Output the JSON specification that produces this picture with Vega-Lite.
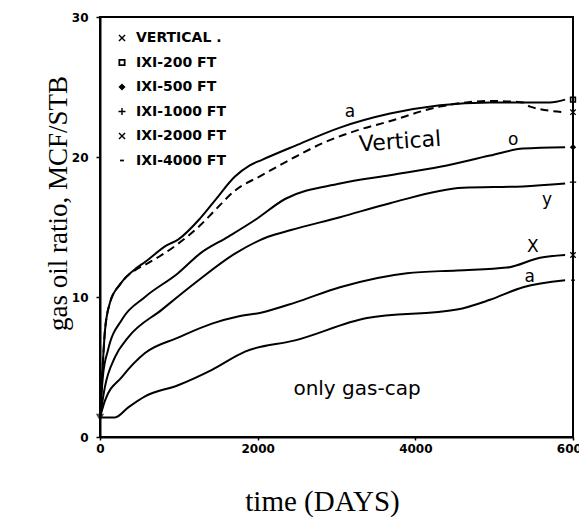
{
  "$schema": "https://vega.github.io/schema/vega-lite/v6.json",
  "autosize": "none",
  "width": 473,
  "height": 420,
  "padding": {"left": 100, "top": 17, "right": 6, "bottom": 88},
  "background": "white",
  "config": {
    "view": {"stroke": "black", "strokeWidth": 2},
    "axis": {
      "domainColor": "black",
      "domainWidth": 2,
      "grid": false,
      "tickColor": "black",
      "tickWidth": 1.5,
      "labelColor": "black",
      "labelFont": "DejaVu Sans",
      "labelFontWeight": "bold",
      "labelFontSize": 12,
      "titleColor": "black",
      "titleFont": "Liberation Serif",
      "titleFontWeight": "normal"
    },
    "text": {"font": "DejaVu Sans", "color": "black"}
  },
  "datasets": {
    "curves": [
      {"well": "VERTICAL .", "t": 0, "gor": 1.4},
      {"well": "VERTICAL .", "t": 25, "gor": 4.1},
      {"well": "VERTICAL .", "t": 63, "gor": 7.6},
      {"well": "VERTICAL .", "t": 127, "gor": 9.6},
      {"well": "VERTICAL .", "t": 254, "gor": 10.9},
      {"well": "VERTICAL .", "t": 470, "gor": 12.0},
      {"well": "VERTICAL .", "t": 571, "gor": 12.3},
      {"well": "VERTICAL .", "t": 990, "gor": 13.8},
      {"well": "VERTICAL .", "t": 1268, "gor": 15.1},
      {"well": "VERTICAL .", "t": 1459, "gor": 16.2},
      {"well": "VERTICAL .", "t": 1712, "gor": 17.6},
      {"well": "VERTICAL .", "t": 2055, "gor": 18.7},
      {"well": "VERTICAL .", "t": 2474, "gor": 20.0},
      {"well": "VERTICAL .", "t": 2829, "gor": 21.0},
      {"well": "VERTICAL .", "t": 3260, "gor": 21.9},
      {"well": "VERTICAL .", "t": 3640, "gor": 22.5},
      {"well": "VERTICAL .", "t": 4313, "gor": 23.6},
      {"well": "VERTICAL .", "t": 4947, "gor": 24.0},
      {"well": "VERTICAL .", "t": 5366, "gor": 23.9},
      {"well": "VERTICAL .", "t": 5455, "gor": 23.6},
      {"well": "VERTICAL .", "t": 5900, "gor": 23.2},

      {"well": "IXI-200 FT", "t": 0, "gor": 1.4},
      {"well": "IXI-200 FT", "t": 25, "gor": 4.1},
      {"well": "IXI-200 FT", "t": 63, "gor": 7.6},
      {"well": "IXI-200 FT", "t": 127, "gor": 9.6},
      {"well": "IXI-200 FT", "t": 254, "gor": 10.9},
      {"well": "IXI-200 FT", "t": 470, "gor": 12.1},
      {"well": "IXI-200 FT", "t": 571, "gor": 12.5},
      {"well": "IXI-200 FT", "t": 850, "gor": 13.7},
      {"well": "IXI-200 FT", "t": 990, "gor": 14.1},
      {"well": "IXI-200 FT", "t": 1268, "gor": 15.6},
      {"well": "IXI-200 FT", "t": 1459, "gor": 16.9},
      {"well": "IXI-200 FT", "t": 1712, "gor": 18.6},
      {"well": "IXI-200 FT", "t": 1900, "gor": 19.4},
      {"well": "IXI-200 FT", "t": 2055, "gor": 19.8},
      {"well": "IXI-200 FT", "t": 2474, "gor": 20.8},
      {"well": "IXI-200 FT", "t": 3044, "gor": 22.1},
      {"well": "IXI-200 FT", "t": 3679, "gor": 23.1},
      {"well": "IXI-200 FT", "t": 4313, "gor": 23.7},
      {"well": "IXI-200 FT", "t": 4947, "gor": 23.9},
      {"well": "IXI-200 FT", "t": 5366, "gor": 23.9},
      {"well": "IXI-200 FT", "t": 5708, "gor": 23.9},
      {"well": "IXI-200 FT", "t": 5900, "gor": 24.1},

      {"well": "IXI-500 FT", "t": 0, "gor": 1.4},
      {"well": "IXI-500 FT", "t": 38, "gor": 4.4},
      {"well": "IXI-500 FT", "t": 101, "gor": 6.2},
      {"well": "IXI-500 FT", "t": 279, "gor": 8.4},
      {"well": "IXI-500 FT", "t": 571, "gor": 10.0},
      {"well": "IXI-500 FT", "t": 990, "gor": 11.7},
      {"well": "IXI-500 FT", "t": 1268, "gor": 13.1},
      {"well": "IXI-500 FT", "t": 1624, "gor": 14.3},
      {"well": "IXI-500 FT", "t": 1966, "gor": 15.5},
      {"well": "IXI-500 FT", "t": 2347, "gor": 17.0},
      {"well": "IXI-500 FT", "t": 3044, "gor": 18.1},
      {"well": "IXI-500 FT", "t": 3679, "gor": 18.7},
      {"well": "IXI-500 FT", "t": 4313, "gor": 19.3},
      {"well": "IXI-500 FT", "t": 4947, "gor": 20.1},
      {"well": "IXI-500 FT", "t": 5366, "gor": 20.6},
      {"well": "IXI-500 FT", "t": 5900, "gor": 20.7},

      {"well": "IXI-1000 FT", "t": 0, "gor": 1.4},
      {"well": "IXI-1000 FT", "t": 63, "gor": 3.6},
      {"well": "IXI-1000 FT", "t": 190, "gor": 5.7},
      {"well": "IXI-1000 FT", "t": 355, "gor": 7.1},
      {"well": "IXI-1000 FT", "t": 786, "gor": 9.1},
      {"well": "IXI-1000 FT", "t": 1205, "gor": 11.0},
      {"well": "IXI-1000 FT", "t": 1712, "gor": 13.1},
      {"well": "IXI-1000 FT", "t": 2131, "gor": 14.3},
      {"well": "IXI-1000 FT", "t": 2436, "gor": 14.8},
      {"well": "IXI-1000 FT", "t": 3044, "gor": 15.7},
      {"well": "IXI-1000 FT", "t": 3679, "gor": 16.7},
      {"well": "IXI-1000 FT", "t": 4605, "gor": 17.8},
      {"well": "IXI-1000 FT", "t": 5366, "gor": 17.9},
      {"well": "IXI-1000 FT", "t": 5900, "gor": 18.1},

      {"well": "IXI-2000 FT", "t": 0, "gor": 1.4},
      {"well": "IXI-2000 FT", "t": 63, "gor": 2.6},
      {"well": "IXI-2000 FT", "t": 279, "gor": 4.3},
      {"well": "IXI-2000 FT", "t": 571, "gor": 6.0},
      {"well": "IXI-2000 FT", "t": 990, "gor": 7.1},
      {"well": "IXI-2000 FT", "t": 1420, "gor": 8.1},
      {"well": "IXI-2000 FT", "t": 1750, "gor": 8.6},
      {"well": "IXI-2000 FT", "t": 2055, "gor": 8.9},
      {"well": "IXI-2000 FT", "t": 2474, "gor": 9.6},
      {"well": "IXI-2000 FT", "t": 3044, "gor": 10.7},
      {"well": "IXI-2000 FT", "t": 3894, "gor": 11.7},
      {"well": "IXI-2000 FT", "t": 4528, "gor": 11.9},
      {"well": "IXI-2000 FT", "t": 5163, "gor": 12.1},
      {"well": "IXI-2000 FT", "t": 5581, "gor": 12.8},
      {"well": "IXI-2000 FT", "t": 5900, "gor": 13.0},

      {"well": "IXI-4000 FT", "t": 0, "gor": 1.4},
      {"well": "IXI-4000 FT", "t": 190, "gor": 1.4},
      {"well": "IXI-4000 FT", "t": 355, "gor": 2.1},
      {"well": "IXI-4000 FT", "t": 571, "gor": 2.9},
      {"well": "IXI-4000 FT", "t": 990, "gor": 3.7},
      {"well": "IXI-4000 FT", "t": 1420, "gor": 4.8},
      {"well": "IXI-4000 FT", "t": 1840, "gor": 6.1},
      {"well": "IXI-4000 FT", "t": 2474, "gor": 6.9},
      {"well": "IXI-4000 FT", "t": 3387, "gor": 8.5},
      {"well": "IXI-4000 FT", "t": 4528, "gor": 9.1},
      {"well": "IXI-4000 FT", "t": 4947, "gor": 9.8},
      {"well": "IXI-4000 FT", "t": 5366, "gor": 10.7},
      {"well": "IXI-4000 FT", "t": 5900, "gor": 11.2}
    ],
    "ends": [
      {"well": "VERTICAL .", "t": 6000, "gor": 23.2},
      {"well": "IXI-200 FT", "t": 6000, "gor": 24.1},
      {"well": "IXI-500 FT", "t": 6000, "gor": 20.7},
      {"well": "IXI-1000 FT", "t": 6000, "gor": 18.2},
      {"well": "IXI-2000 FT", "t": 6000, "gor": 13.0},
      {"well": "IXI-4000 FT", "t": 6000, "gor": 11.2}
    ]
  },
  "encoding": {
    "x": {
      "field": "t",
      "type": "quantitative",
      "scale": {"domain": [0, 6000], "nice": false, "zero": false},
      "axis": {
        "title": "time (DAYS)",
        "values": [0, 2000, 4000, 6000],
        "format": "d",
        "tickSize": 3,
        "labelPadding": 3,
        "labelFlush": false,
        "titleFontSize": 29,
        "titleX": 222,
        "titleY": 73,
        "titleAlign": "center",
        "titleBaseline": "alphabetic"
      }
    },
    "y": {
      "field": "gor",
      "type": "quantitative",
      "scale": {"domain": [0, 30], "nice": false, "zero": false},
      "axis": {
        "title": "gas oil ratio, MCF/STB",
        "values": [0, 10, 20, 30],
        "tickSize": 4,
        "labelPadding": 8,
        "labelFlush": false,
        "titleFontSize": 27,
        "titleAngle": 270,
        "titleX": -42,
        "titleY": 186,
        "titleAlign": "center",
        "titleBaseline": "middle"
      }
    }
  },
  "layer": [
    {
      "data": {"name": "curves"},
      "transform": [{"filter": "datum.well === 'VERTICAL .'"}],
      "mark": {"type": "line", "color": "black", "strokeWidth": 2, "strokeDash": [8, 5], "interpolate": "monotone"}
    },
    {
      "data": {"name": "curves"},
      "transform": [{"filter": "datum.well !== 'VERTICAL .'"}],
      "mark": {"type": "line", "color": "black", "strokeWidth": 2, "interpolate": "monotone"},
      "encoding": {"detail": {"field": "well"}}
    },
    {
      "data": {"name": "ends"},
      "mark": {"type": "point", "filled": true, "color": "black", "size": 40, "opacity": 1},
      "encoding": {
        "shape": {
          "field": "well",
          "type": "nominal",
          "sort": null,
          "scale": {
            "domain": ["VERTICAL .", "IXI-200 FT", "IXI-500 FT", "IXI-1000 FT", "IXI-2000 FT", "IXI-4000 FT"],
            "range": [
              "M-1,-0.72L-0.72,-1L0,-0.28L0.72,-1L1,-0.72L0.28,0L1,0.72L0.72,1L0,0.28L-0.72,1L-1,0.72L-0.28,0Z",
              "M-1,-1H1V1H-1Z M-0.5,-0.5V0.5H0.5V-0.5Z",
              "diamond",
              "M-1,-0.2H-0.2V-1H0.2V-0.2H1V0.2H0.2V1H-0.2V0.2H-1Z",
              "M-1,-0.72L-0.72,-1L0,-0.28L0.72,-1L1,-0.72L0.28,0L1,0.72L0.72,1L0,0.28L-0.72,1L-1,0.72L-0.28,0Z",
              "M-0.55,-0.25H0.55V0.25H-0.55Z"
            ]
          },
          "legend": {
            "title": null,
            "orient": "none",
            "legendX": 15,
            "legendY": 14,
            "padding": 0,
            "rowPadding": 10.5,
            "symbolSize": 50,
            "symbolFillColor": "black",
            "symbolOpacity": 1,
            "labelFont": "DejaVu Sans",
            "labelFontWeight": "bold",
            "labelFontSize": 14,
            "labelColor": "black",
            "labelOffset": 7
          }
        }
      }
    },
    {
      "data": {"values": [{"t": 0, "gor": 1.4}]},
      "mark": {"type": "point", "shape": "triangle-down", "filled": true, "color": "black", "size": 70}
    },
    {
      "data": {"values": [{"t": 3806, "gor": 21.1, "label": "Vertical"}]},
      "mark": {"type": "text", "fontSize": 22, "angle": 356, "align": "center", "baseline": "middle"},
      "encoding": {"text": {"field": "label"}}
    },
    {
      "data": {"values": [{"t": 3260, "gor": 3.4, "label": "only gas-cap"}]},
      "mark": {"type": "text", "fontSize": 20, "align": "center", "baseline": "middle"},
      "encoding": {"text": {"field": "label"}}
    },
    {
      "data": {"values": [
        {"t": 3171, "gor": 23.2, "label": "a"},
        {"t": 5240, "gor": 21.2, "label": "o"},
        {"t": 5670, "gor": 16.9, "label": "y"},
        {"t": 5490, "gor": 13.6, "label": "X"},
        {"t": 5450, "gor": 11.4, "label": "a"}
      ]},
      "mark": {"type": "text", "fontSize": 17, "align": "center", "baseline": "middle"},
      "encoding": {"text": {"field": "label"}}
    }
  ]
}
